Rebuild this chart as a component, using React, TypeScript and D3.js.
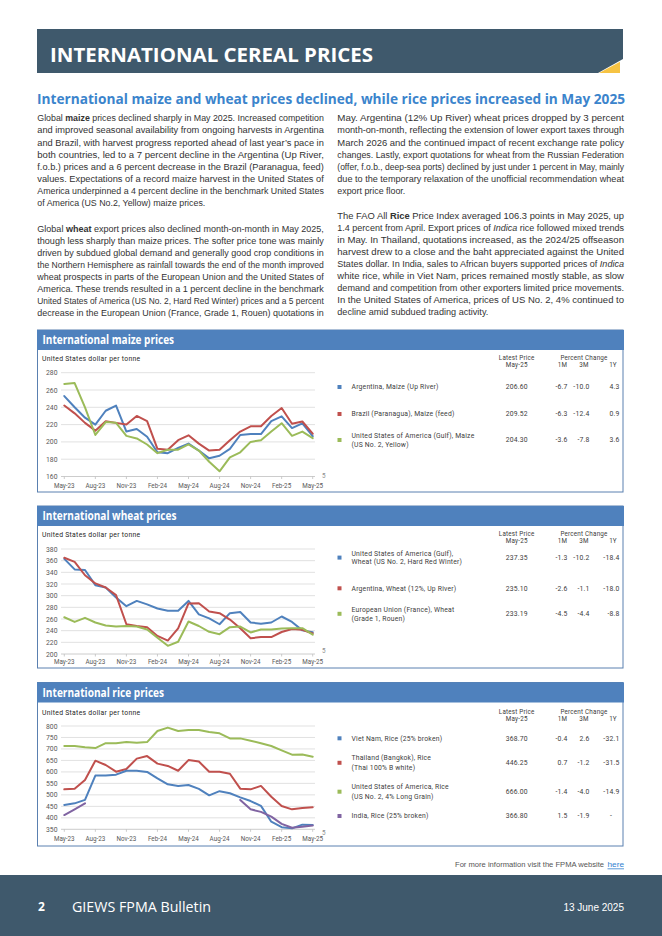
import React from "react";
import * as d3 from "d3";

// ---------- DATA ----------
const months = ["May-23","Jun-23","Jul-23","Aug-23","Sep-23","Oct-23","Nov-23","Dec-23","Jan-24","Feb-24","Mar-24","Apr-24","May-24","Jun-24","Jul-24","Aug-24","Sep-24","Oct-24","Nov-24","Dec-24","Jan-25","Feb-25","Mar-25","Apr-25","May-25"];
const tickMonths = ["May-23","Aug-23","Nov-23","Feb-24","May-24","Aug-24","Nov-24","Feb-25","May-25"];

const maizeTicks = [160, 180, 200, 220, 240, 260, 280];
const wheatTicks = [200, 220, 240, 260, 280, 300, 320, 340, 360, 380];
const riceTicks = [350, 400, 450, 500, 550, 600, 650, 700, 750, 800];

const maizeArgentina = [253, 240, 228, 220, 236, 242, 212, 215, 206, 188, 187, 193, 198, 190, 181, 184, 192, 208, 209, 209, 224, 229.6, 216, 221.4, 206.6];
const maizeBrazil = [242, 233, 222, 213, 224, 222, 220, 230, 224, 192, 191, 202, 207.6, 198, 190, 191, 202, 212, 218, 218, 230, 239.2, 221, 223.6, 209.52];
const maizeUS = [267, 268, 240, 208, 223, 222, 207, 204, 197, 187, 191, 191, 197.2, 190, 177, 166, 182, 188, 200, 202, 212, 221.6, 207, 211.9, 204.3];

const wheatUS = [363, 345, 344, 318, 314, 297, 282, 291, 285, 278, 274, 274, 291, 268, 261, 251, 270, 272, 254, 252, 254, 264.3, 255, 240.5, 237.35];
const wheatArgentina = [365, 358, 335, 321, 314, 301, 251, 248, 246, 231, 223, 244, 286.7, 287, 273, 270, 259, 244, 227, 229, 229, 237.7, 243, 241.4, 235.1];
const wheatEU = [263, 255, 262, 254, 249, 247, 248, 247, 242, 228, 214, 221, 255.7, 248, 238, 234, 246, 247, 237, 242, 242, 243.9, 244, 244.2, 233.19];

const riceVietNam = [456, 463, 478, 584, 584, 588, 605, 605, 600, 572, 546, 539, 543, 526, 498, 516, 507, 489, 473, 452, 383, 359.4, 354, 370.2, 368.7];
const riceThailand = [524, 527, 565, 649, 630, 601, 613, 658, 669, 636, 626, 605, 651.5, 645, 601, 601, 592, 527, 524, 539, 492, 451.7, 437, 443.1, 446.25];
const riceUS = [713, 713, 707, 704, 725, 725, 730, 727, 730, 778, 793, 778, 782.6, 783, 774, 768, 746, 746, 736, 725, 713, 693.75, 675, 675.5, 666];
const riceIndia = [412, 437, 463, NaN, NaN, NaN, NaN, NaN, NaN, NaN, NaN, NaN, NaN, NaN, NaN, NaN, NaN, 478, 437, 426, 405, 373.9, 357, 361.4, 366.8];

const maizeNames = [["Argentina, Maize (Up River)"], ["Brazil (Paranagua), Maize (feed)"], ["United States of America (Gulf), Maize", "(US No. 2, Yellow)"]];
const maizePrices = ["206.60", "209.52", "204.30"];
const maize1M = ["-6.7", "-6.3", "-3.6"];
const maize3M = ["-10.0", "-12.4", "-7.8"];
const maize1Y = ["4.3", "0.9", "3.6"];

const wheatNames = [["United States of America (Gulf),", "Wheat (US No. 2, Hard Red Winter)"], ["Argentina, Wheat (12%, Up River)"], ["European Union (France), Wheat", "(Grade 1, Rouen)"]];
const wheatPrices = ["237.35", "235.10", "233.19"];
const wheat1M = ["-1.3", "-2.6", "-4.5"];
const wheat3M = ["-10.2", "-1.1", "-4.4"];
const wheat1Y = ["-18.4", "-18.0", "-8.8"];

const riceNames = [["Viet Nam, Rice (25% broken)"], ["Thailand (Bangkok), Rice", "(Thai 100% B white)"], ["United States of America, Rice", "(US No. 2, 4% Long Grain)"], ["India, Rice (25% broken)"]];
const ricePrices = ["368.70", "446.25", "666.00", "366.80"];
const rice1M = ["-0.4", "0.7", "-1.4", "1.5"];
const rice3M = ["2.6", "-1.2", "-4.0", "-1.9"];
const rice1Y = ["-32.1", "-31.5", "-14.9", "-"];

type Seg = string | { b: string } | { i: string };
const leftP1: Seg[][] = [
  ["Global ", { b: "maize" }, " prices declined sharply in May 2025. Increased competition"],
  ["and improved seasonal availability from ongoing harvests in Argentina"],
  ["and Brazil, with harvest progress reported ahead of last year\u2019s pace in"],
  ["both countries, led to a 7 percent decline in the Argentina (Up River,"],
  ["f.o.b.) prices and a 6 percent decrease in the Brazil (Paranagua, feed)"],
  ["values. Expectations of a record maize harvest in the United States of"],
  ["America underpinned a 4 percent decline in the benchmark United States"],
  ["of America (US No.2, Yellow) maize prices."],
];
const leftP2: Seg[][] = [
  ["Global ", { b: "wheat" }, " export prices also declined month-on-month in May 2025,"],
  ["though less sharply than maize prices. The softer price tone was mainly"],
  ["driven by subdued global demand and generally good crop conditions in"],
  ["the Northern Hemisphere as rainfall towards the end of the month improved"],
  ["wheat prospects in parts of the European Union and the United States of"],
  ["America. These trends resulted in a 1 percent decline in the benchmark"],
  ["United States of America (US No. 2, Hard Red Winter) prices and a 5 percent"],
  ["decrease in the European Union (France, Grade 1, Rouen) quotations in"],
];
const rightP1: Seg[][] = [
  ["May. Argentina (12% Up River) wheat prices dropped by 3 percent"],
  ["month-on-month, reflecting the extension of lower export taxes through"],
  ["March 2026 and the continued impact of recent exchange rate policy"],
  ["changes. Lastly, export quotations for wheat from the Russian Federation"],
  ["(offer, f.o.b., deep-sea ports) declined by just under 1 percent in May, mainly"],
  ["due to the temporary relaxation of the unofficial recommendation wheat"],
  ["export price floor."],
];
const rightP2: Seg[][] = [
  ["The FAO All ", { b: "Rice" }, " Price Index averaged 106.3 points in May 2025, up"],
  ["1.4 percent from April. Export prices of ", { i: "Indica" }, " rice followed mixed trends"],
  ["in May. In Thailand, quotations increased, as the 2024/25 offseason"],
  ["harvest drew to a close and the baht appreciated against the United"],
  ["States dollar. In India, sales to African buyers supported prices of ", { i: "Indica" }],
  ["white rice, while in Viet Nam, prices remained mostly stable, as slow"],
  ["demand and competition from other exporters limited price movements."],
  ["In the United States of America, prices of US No. 2, 4% continued to"],
  ["decline amid subdued trading activity."],
];

// ---------- STYLE ----------
const BLUE = "#4f81bd";
const RED = "#c0504d";
const GREEN = "#9bbb59";
const PURPLE = "#8064a2";
const SLATE = "#3f596c";
const BODY_FONT = "'Liberation Sans Narrow','Liberation Sans',Arial,sans-serif";
const UI_FONT = "'Open Sans','Liberation Sans',sans-serif";
const CHART_FONT = "Roboto,'Open Sans',sans-serif";

const xScale = d3.scaleLinear().domain([0, months.length - 1]).range([64.3, 312.7]);

function Para({ lines, x, y0, step, width, lastWidth }: { lines: Seg[][]; x: number; y0: number; step: number; width: number; lastWidth?: number }) {
  return (
    <g>
      {lines.map((segs, li) => {
        const isLast = li === lines.length - 1 && lastWidth !== undefined;
        const w = isLast ? lastWidth : width;
        return (
          <text key={li} x={x} y={y0 + li * step + 3.4} fontSize={9.6} fill="#333" fontFamily={BODY_FONT}
            textLength={w} lengthAdjust="spacingAndGlyphs" style={{ whiteSpace: "pre" }}>
            {segs.map((s, si) => {
              if (typeof s === "string") return <tspan key={si}>{s}</tspan>;
              if ("b" in s) return <tspan key={si} fontWeight="bold">{s.b}</tspan>;
              return <tspan key={si} fontStyle="italic">{s.i}</tspan>;
            })}
          </text>
        );
      })}
    </g>
  );
}

type Series = { values: number[]; color: string };
type PanelProps = {
  top: number; bottom: number; title: string; titleW: number;
  ticks: number[]; yTopPx: number; yBotPx: number; unitsY: number; xLabY: number;
  series: Series[];
  names: string[][]; prices: string[]; c1: string[]; c3: string[]; cy: string[];
  colors: string[]; rowCY: number[]; headY: number[]; lineGap: number; fiveY: number;
};

function Panel(p: PanelProps) {
  const yMin = p.ticks[0], yMax = p.ticks[p.ticks.length - 1];
  const y = d3.scaleLinear().domain([yMin, yMax]).range([p.yBotPx, p.yTopPx]);
  const line = d3.line<number>().defined((v) => !isNaN(v)).x((_, i) => xScale(i)).y((v) => y(v));
  const tickIdx = tickMonths.map((m) => months.indexOf(m));
  const lt = { fontFamily: CHART_FONT, fontSize: 6.8, fill: "#404040", letterSpacing: 0.2 } as const;
  const ht = { fontFamily: CHART_FONT, fontSize: 6.3, fill: "#404040", letterSpacing: 0.2 } as const;
  return (
    <g>
      <rect x={37.5} y={p.top} width={585.5} height={p.bottom - p.top} fill="#fff" stroke="#5a80b0" strokeWidth={1} />
      <rect x={37} y={p.top} width={587} height={20} fill={BLUE} />
      <text x={42.5} y={p.top + 14} fill="#fff" fontWeight="bold" fontSize={11.5} fontFamily={UI_FONT}
        textLength={p.titleW} lengthAdjust="spacingAndGlyphs">{p.title}</text>
      <text x={42} y={p.unitsY} fontSize={6.8} fill="#262626" fontFamily={CHART_FONT} letterSpacing={0.3}>United States dollar per tonne</text>
      {p.ticks.map((t) => (
        <g key={t}>
          <line x1={61} x2={315} y1={y(t)} y2={y(t)} stroke={t === yMin ? "#bfbfbf" : "#d9d9d9"} strokeWidth={0.8} />
          <text x={57.5} y={y(t) + 2.5} textAnchor="end" fontSize={6.8} fill="#595959" fontFamily={CHART_FONT}>{t}</text>
        </g>
      ))}
      {tickIdx.map((i) => (
        <g key={i}>
          <line x1={xScale(i)} x2={xScale(i)} y1={y(yMin)} y2={y(yMin) + 2.5} stroke="#bfbfbf" strokeWidth={0.8} />
          <text x={xScale(i)} y={p.xLabY} textAnchor="middle" fontSize={6.3} fill="#595959" fontFamily={CHART_FONT}>{months[i]}</text>
        </g>
      ))}
      {p.series.map((s, k) => (
        <path key={k} d={line(s.values) || ""} fill="none" stroke={s.color} strokeWidth={2} strokeLinejoin="round" strokeLinecap="round" />
      ))}
      {/* legend table */}
      <text x={516.7} y={p.headY[0] + 2.2} textAnchor="middle" {...ht}>Latest Price</text>
      <text x={516.7} y={p.headY[1] + 2.2} textAnchor="middle" {...ht}>May-25</text>
      <text x={584} y={p.headY[0] + 2.2} textAnchor="middle" {...ht}>Percent Change</text>
      <text x={562.5} y={p.headY[1] + 2.2} textAnchor="middle" {...ht}>1M</text>
      <text x={584} y={p.headY[1] + 2.2} textAnchor="middle" {...ht}>3M</text>
      <text x={613} y={p.headY[1] + 2.2} textAnchor="middle" {...ht}>1Y</text>
      {p.names.map((nm, r) => {
        const cy = p.rowCY[r];
        return (
          <g key={r}>
            <rect x={337.5} y={cy - 2} width={4} height={4} fill={p.colors[r]} />
            {nm.map((t, j) => (
              <text key={j} x={351.5} y={cy + (j - (nm.length - 1) / 2) * p.lineGap + 2.4} {...lt}>{t}</text>
            ))}
            <text x={516.7} y={cy + 2.4} textAnchor="middle" {...lt}>{p.prices[r]}</text>
            <text x={567.5} y={cy + 2.4} textAnchor="end" {...lt}>{p.c1[r]}</text>
            <text x={589.5} y={cy + 2.4} textAnchor="end" {...lt}>{p.c3[r]}</text>
            <text x={p.cy[r] === "-" ? 612 : 619.5} y={cy + 2.4} textAnchor="end" {...lt}>{p.cy[r]}</text>
          </g>
        );
      })}
      <text x={322} y={p.fiveY + 2.2} fontSize={6.3} fill="#8c8c8c" fontFamily={CHART_FONT}>5</text>
    </g>
  );
}

export default function App() {
  const step = 12.05;
  return (
    <svg width={662} height={936} viewBox="0 0 662 936" style={{ position: "absolute", left: 0, top: 0, background: "#fff" }}>
      <rect x={0} y={0} width={662} height={936} fill="#fff" />
      {/* header band */}
      <polygon points="37,29 623,29 623,59 598,73 37,73" fill={SLATE} />
      <polygon points="599,73 620,73 620,61.7" fill="#f6c343" />
      <text x={50} y={61.5} fill="#fff" fontWeight="bold" fontSize={20} fontFamily={UI_FONT}
        textLength={323} lengthAdjust="spacingAndGlyphs">INTERNATIONAL CEREAL PRICES</text>
      <text x={37} y={104} fill="#3b84cc" fontWeight="bold" fontSize={14} fontFamily={UI_FONT}
        textLength={588} lengthAdjust="spacingAndGlyphs">International maize and wheat prices declined, while rice prices increased in May 2025</text>

      {/* body text */}
      <Para lines={leftP1} x={37.3} y0={118} step={step} width={286.5} lastWidth={168} />
      <Para lines={leftP2} x={37.3} y0={228.3} step={step} width={286.5} />
      <Para lines={rightP1} x={337.3} y0={118} step={step} width={286.7} lastWidth={68} />
      <Para lines={rightP2} x={337.3} y0={215.5} step={step} width={286.7} lastWidth={151} />

      <Panel top={330} bottom={492} title="International maize prices" titleW={131.6}
        ticks={maizeTicks} yTopPx={372.7} yBotPx={476.5} unitsY={360.7} xLabY={488.3}
        series={[{ values: maizeArgentina, color: BLUE }, { values: maizeBrazil, color: RED }, { values: maizeUS, color: GREEN }]}
        names={maizeNames} prices={maizePrices} c1={maize1M} c3={maize3M} cy={maize1Y}
        colors={[BLUE, RED, GREEN]} rowCY={[387, 414, 440]} headY={[357.3, 364.6]} lineGap={8.7} fiveY={475.7} />

      <Panel top={506} bottom={668} title="International wheat prices" titleW={134}
        ticks={wheatTicks} yTopPx={549} yBotPx={654} unitsY={536.9} xLabY={664.2}
        series={[{ values: wheatUS, color: BLUE }, { values: wheatArgentina, color: RED }, { values: wheatEU, color: GREEN }]}
        names={wheatNames} prices={wheatPrices} c1={wheat1M} c3={wheat3M} cy={wheat1Y}
        colors={[BLUE, RED, GREEN]} rowCY={[557.6, 588.3, 613.8]} headY={[533.3, 540.6]} lineGap={8.7} fiveY={650.7} />

      <Panel top={682.5} bottom={846} title="International rice prices" titleW={121.6}
        ticks={riceTicks} yTopPx={726} yBotPx={829.3} unitsY={714.8} xLabY={840.8}
        series={[{ values: riceUS, color: GREEN }, { values: riceThailand, color: RED }, { values: riceVietNam, color: BLUE }, { values: riceIndia, color: PURPLE }]}
        names={riceNames} prices={ricePrices} c1={rice1M} c3={rice3M} cy={rice1Y}
        colors={[BLUE, RED, GREEN, PURPLE]} rowCY={[738.3, 762.8, 791.7, 816]} headY={[711.3, 718.6]} lineGap={10} fiveY={832.5} />

      {/* footer */}
      <text x={455} y={866.5} fontSize={8} fill="#555" fontFamily={BODY_FONT} textLength={149} lengthAdjust="spacingAndGlyphs">For more information visit the FPMA website</text>
      <text x={607.5} y={866.5} fontSize={8} fill="#2f7fd0" fontFamily={BODY_FONT} textLength={16.5} lengthAdjust="spacingAndGlyphs">here</text>
      <line x1={607.5} x2={624} y1={868.8} y2={868.8} stroke="#2f7fd0" strokeWidth={0.8} />
      <rect x={0} y={875} width={662} height={61} fill={SLATE} />
      <text x={38} y={911} fill="#fff" fontWeight="bold" fontSize={12} fontFamily={UI_FONT}>2</text>
      <text x={72} y={912} fill="#fff" fontSize={14.5} fontFamily={UI_FONT} textLength={139} lengthAdjust="spacingAndGlyphs">GIEWS FPMA Bulletin</text>
      <text x={624} y={911} fill="#fff" fontSize={10} textAnchor="end" fontFamily={BODY_FONT}>13 June 2025</text>
    </svg>
  );
}
